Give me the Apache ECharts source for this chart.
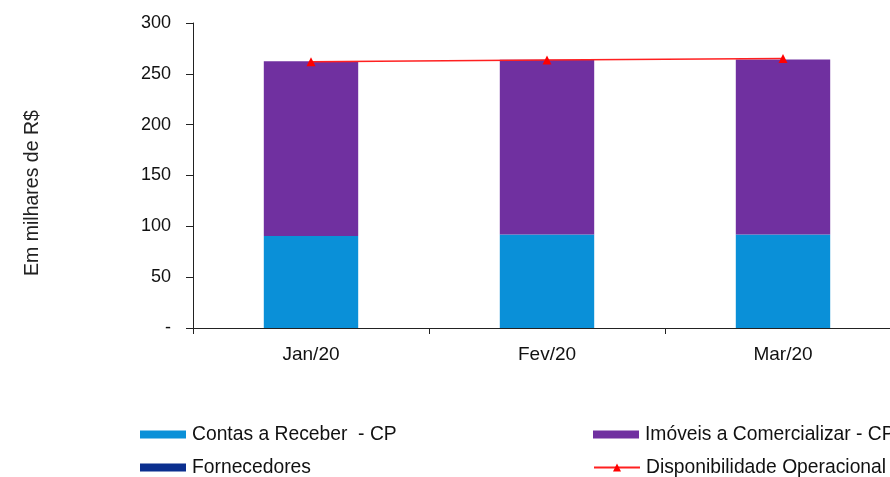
<!DOCTYPE html>
<html>
<head>
<meta charset="utf-8">
<script src="https://cdn.jsdelivr.net/npm/echarts@6/dist/echarts.min.js"></script>
<style>
  html, body { margin: 0; padding: 0; background: #fff; overflow: hidden; }
  #chart { width: 910px; height: 477px; }
</style>
</head>
<body>
<div id="chart"></div>
<script>
// Monthly values, in thousands of R$
const months = ['Jan/20', 'Fev/20', 'Mar/20'];
const contasReceber = [90.5, 92, 92];
const imoveisComercializar = [172, 171.8, 172];
const fornecedores = [0, 0, 0];
const disponibilidade = [262, 263.5, 265];
const yTicks = { min: 0, max: 300, step: 50 };

const FONT = '"Liberation Sans", Arial, sans-serif';
const chart = echarts.init(document.getElementById('chart'), null, { renderer: 'canvas' });

const legendBase = {
  itemWidth: 46,
  itemHeight: 8,
  itemGap: 6,
  padding: 0,
  textStyle: { fontFamily: FONT, fontSize: 19.3, color: '#111', padding: [0, 0, 0, 1] },
  selectedMode: false
};

chart.setOption({
  animation: false,
  backgroundColor: '#fff',
  // the plot runs a little past the right edge of the page
  grid: { left: 193, top: 23, width: 708, height: 305, containLabel: false },
  xAxis: {
    type: 'category',
    data: months,
    boundaryGap: true,
    axisLine: { show: true, lineStyle: { color: '#222', width: 1 } },
    axisTick: { show: true, length: 6, lineStyle: { color: '#222' } },
    axisLabel: { fontFamily: FONT, fontSize: 19, color: '#111', margin: 17 }
  },
  yAxis: {
    type: 'value',
    min: yTicks.min,
    max: yTicks.max,
    interval: yTicks.step,
    name: 'Em milhares de R$',
    nameLocation: 'middle',
    nameGap: 150,
    nameRotate: 90,
    nameTextStyle: { fontFamily: FONT, fontSize: 19.5, color: '#222', padding: [0, 35, 0, 0] },
    axisLine: { show: true, lineStyle: { color: '#222', width: 1 } },
    axisTick: { show: true, length: 7, lineStyle: { color: '#222' } },
    splitLine: { show: false },
    axisLabel: {
      fontFamily: FONT, fontSize: 18, color: '#111', margin: 22,
      formatter: v => (v === 0 ? '-' : String(v))
    }
  },
  legend: [
    Object.assign({}, legendBase, { left: 140, top: 425, data: [{ name: 'Contas a Receber  - CP', icon: 'rect' }] }),
    Object.assign({}, legendBase, { left: 593, top: 425, data: [{ name: 'Imóveis a Comercializar - CP', icon: 'rect' }] }),
    Object.assign({}, legendBase, { left: 140, top: 458, data: [{ name: 'Fornecedores', icon: 'rect' }] }),
    Object.assign({}, legendBase, { left: 593, top: 458, itemHeight: 10, data: [{ name: 'Disponibilidade Operacional' }] })
  ],
  series: [
    {
      name: 'Contas a Receber  - CP',
      type: 'bar',
      stack: 'total',
      barWidth: '40%',
      itemStyle: { color: '#0a90d8' },
      data: contasReceber
    },
    {
      name: 'Imóveis a Comercializar - CP',
      type: 'bar',
      stack: 'total',
      barWidth: '40%',
      itemStyle: { color: '#7030a0' },
      data: imoveisComercializar
    },
    {
      name: 'Fornecedores',
      type: 'bar',
      stack: 'total',
      barWidth: '40%',
      itemStyle: { color: '#0b2f8f' },
      data: fornecedores
    },
    {
      name: 'Disponibilidade Operacional',
      type: 'line',
      symbol: 'triangle',
      symbolSize: 9,
      lineStyle: { color: '#ff2020', width: 1.5 },
      itemStyle: { color: '#ff0000' },
      z: 5,
      data: disponibilidade
    }
  ]
});
</script>
</body>
</html>
